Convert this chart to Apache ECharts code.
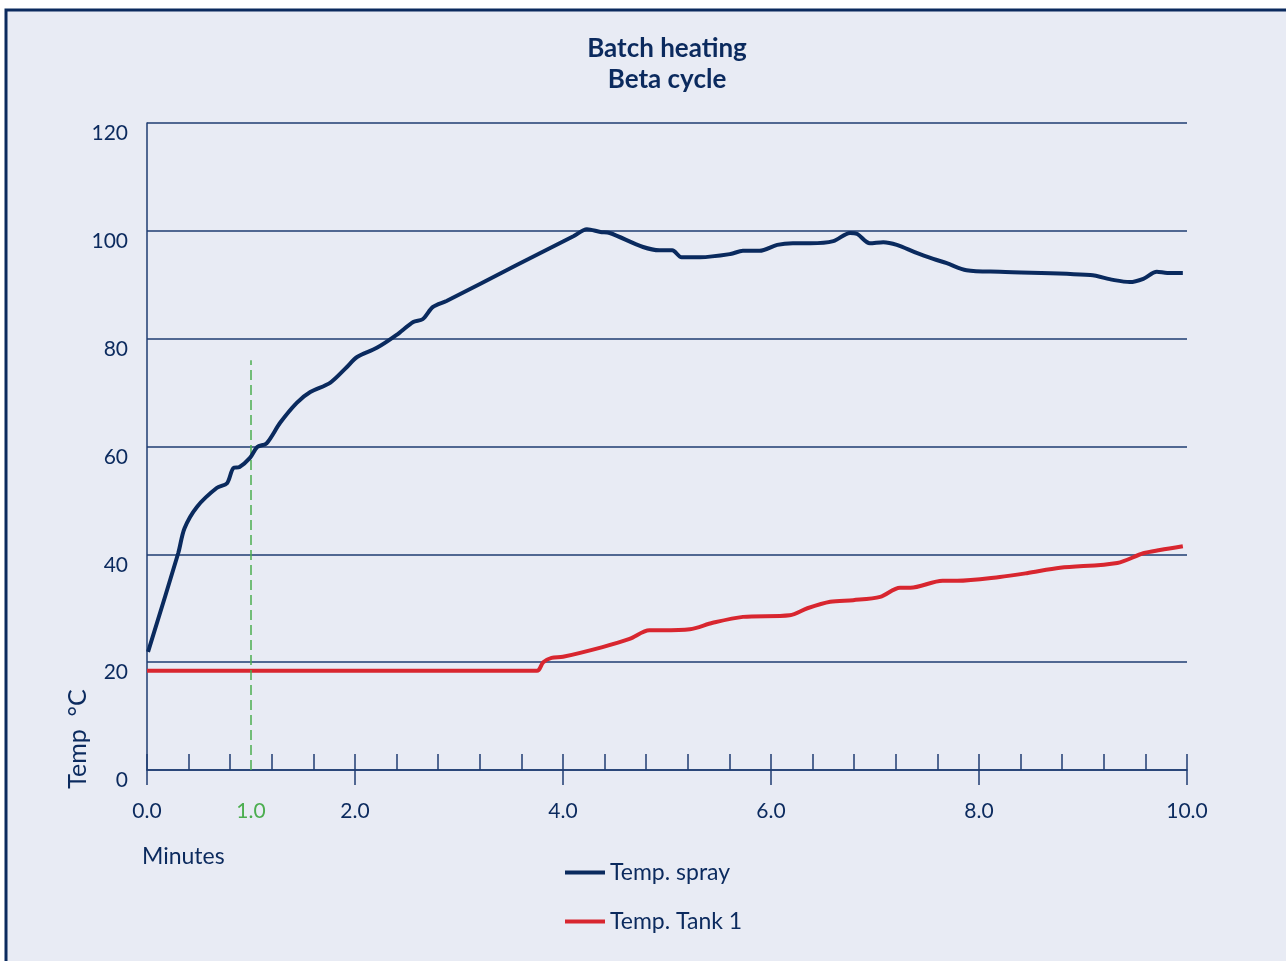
<!DOCTYPE html>
<html lang="en">
<head>
    <meta charset="UTF-8">
    <title>Batch heating - Beta cycle</title>
    <script src="https://cdn.jsdelivr.net/npm/echarts/dist/echarts.min.js"></script>
    <style>
        html, body { margin: 0; padding: 0; background: #ffffff; }
        #chart { width: 1286px; height: 961px; }
    </style>
</head>
<body>
<div id="chart"></div>

<script>
    // minutes / temperature
    const sprayMinutes = [0.01, 0.30, 0.36, 0.48, 0.67, 0.77, 0.83, 0.89, 0.99, 1.06, 1.15, 1.28, 1.44, 1.57, 1.76, 1.92, 2.02, 2.21, 2.40,
        2.56, 2.65, 2.75, 2.88, 3.55, 4.10, 4.23, 4.36, 4.45, 4.77, 4.93, 5.05, 5.14, 5.32, 5.61, 5.73, 5.89, 6.06, 6.21, 6.38, 6.60, 6.76, 6.83,
        6.95, 7.08, 7.21, 7.40, 7.56, 7.69, 7.88, 8.20, 9.07, 9.29, 9.45, 9.58, 9.71, 9.81, 9.96];
    const sprayTemps = [21.9, 40.2, 44.8, 48.8, 52.3, 53.2, 56.0, 56.2, 57.9, 59.9, 60.6, 64.4, 68.1, 70.1, 71.8, 74.7, 76.6, 78.3, 80.7,
        83.1, 83.6, 85.9, 87.0, 93.6, 99.0, 100.3, 99.8, 99.6, 97.0, 96.4, 96.4, 95.1, 95.1, 95.7, 96.3, 96.3, 97.4, 97.7, 97.7, 98.1, 99.6, 99.4,
        97.7, 97.9, 97.4, 95.9, 94.8, 94.0, 92.7, 92.4, 91.8, 90.9, 90.5, 91.1, 92.4, 92.2, 92.2];

    const tankMinutes = [0, 3.75, 3.81, 3.89, 4.0, 4.38, 4.64, 4.83, 4.95, 5.22, 5.44, 5.73, 6.18, 6.35, 6.57, 6.79, 7.05,
        7.24, 7.34, 7.65, 7.79, 8.2, 8.46, 8.78, 9.33, 9.58, 9.74, 9.96];
    const tankTemps = [18.4, 18.4, 20.0, 20.8, 21.0, 22.8, 24.3, 25.9, 25.9, 26.1, 27.3, 28.4, 28.7, 30.0, 31.2, 31.5, 32.1,
        33.8, 33.8, 35.1, 35.1, 35.8, 36.5, 37.5, 38.4, 40.2, 40.8, 41.5];

    const markerMinute = 1.0;     // green dashed line
    const markerTop = 76;

    const navy = '#0b2a5e';
    const gridColor = '#1f3c72';
    const green = '#4bae4f';
    const font = 'Lato';

    const chart = echarts.init(document.getElementById('chart'));

    const baseX = {
        type: 'value',
        position: 'bottom',
        min: 0,
        max: 10,
        splitLine: { show: false }
    };

    const option = {
        backgroundColor: '#ffffff',
        animation: false,
        textStyle: { fontFamily: font, color: navy },
        graphic: [
            {
                type: 'rect',
                z: -10,
                shape: { x: 6, y: 10, width: 1300, height: 1000 },
                style: { fill: '#e8ebf4', stroke: navy, lineWidth: 3 }
            },
            {
                type: 'text',
                x: 78, y: 739,
                rotation: Math.PI / 2,
                style: { text: 'Temp  °C', fontSize: 25, fontFamily: font, fill: navy, align: 'center', verticalAlign: 'middle' }
            },
            {
                type: 'text',
                left: 142, top: 845,
                style: { text: 'Minutes', fontSize: 23, fontFamily: font, fill: navy }
            }
        ],
        title: {
            text: 'Batch heating\nBeta cycle',
            left: 662,
            textAlign: 'center',
            top: 28,
            textStyle: { fontFamily: font, fontSize: 26, fontWeight: 'bold', color: navy, lineHeight: 31 }
        },
        legend: {
            orient: 'vertical',
            left: 560,
            top: 856,
            itemWidth: 40,
            itemHeight: 4,
            itemGap: 26,
            icon: 'rect',
            textStyle: { fontFamily: font, fontSize: 23, color: navy },
            data: ['Temp. spray', 'Temp. Tank 1']
        },
        grid: { left: 147, right: 99, top: 123, bottom: 191 },
        xAxis: [
            // minor ticks pointing up
            Object.assign({}, baseX, {
                interval: 0.4,
                axisLine: { show: true, lineStyle: { color: gridColor, width: 1.5 } },
                axisTick: { show: true, inside: true, length: 16, lineStyle: { color: gridColor, width: 1.5 } },
                axisLabel: { show: false }
            }),
            // major ticks and labels
            Object.assign({}, baseX, {
                interval: 2,
                axisLine: { show: false },
                axisTick: { show: true, length: 15, lineStyle: { color: gridColor, width: 1.5 } },
                axisLabel: { margin: 31, fontSize: 21, fontFamily: font, color: navy, formatter: v => v.toFixed(1) }
            }),
            // green 1.0 label
            Object.assign({}, baseX, {
                interval: 1,
                axisLine: { show: false },
                axisTick: { show: false },
                axisLabel: {
                    margin: 31, fontSize: 21, fontFamily: font, color: green,
                    formatter: v => (v === markerMinute ? v.toFixed(1) : '')
                }
            })
        ],
        yAxis: {
            type: 'value',
            min: 0,
            max: 120,
            interval: 20,
            axisLine: { show: true, lineStyle: { color: gridColor, width: 1.5 } },
            axisTick: { show: false },
            axisLabel: { margin: 19, fontSize: 21, fontFamily: font, color: navy, verticalAlign: 'top' },
            splitLine: { show: true, lineStyle: { color: gridColor, width: 1.5 } }
        },
        series: [
            {
                name: 'Temp. spray',
                type: 'line',
                smooth: 0.3,
                symbol: 'none',
                color: '#0a2a5e',
                lineStyle: { width: 4 },
                z: 5,
                data: sprayMinutes.map((m, i) => [m, sprayTemps[i]])
            },
            {
                name: 'Temp. Tank 1',
                type: 'line',
                smooth: 0.3,
                symbol: 'none',
                color: '#d8262f',
                lineStyle: { width: 4 },
                z: 4,
                data: tankMinutes.map((m, i) => [m, tankTemps[i]]),
                markLine: {
                    silent: true,
                    symbol: 'none',
                    label: { show: false },
                    lineStyle: { color: green, width: 1.5, type: [10, 5] },
                    data: [[{ coord: [markerMinute, 0] }, { coord: [markerMinute, markerTop] }]]
                }
            }
        ]
    };
    chart.setOption(option);
</script>
</body>
</html>
